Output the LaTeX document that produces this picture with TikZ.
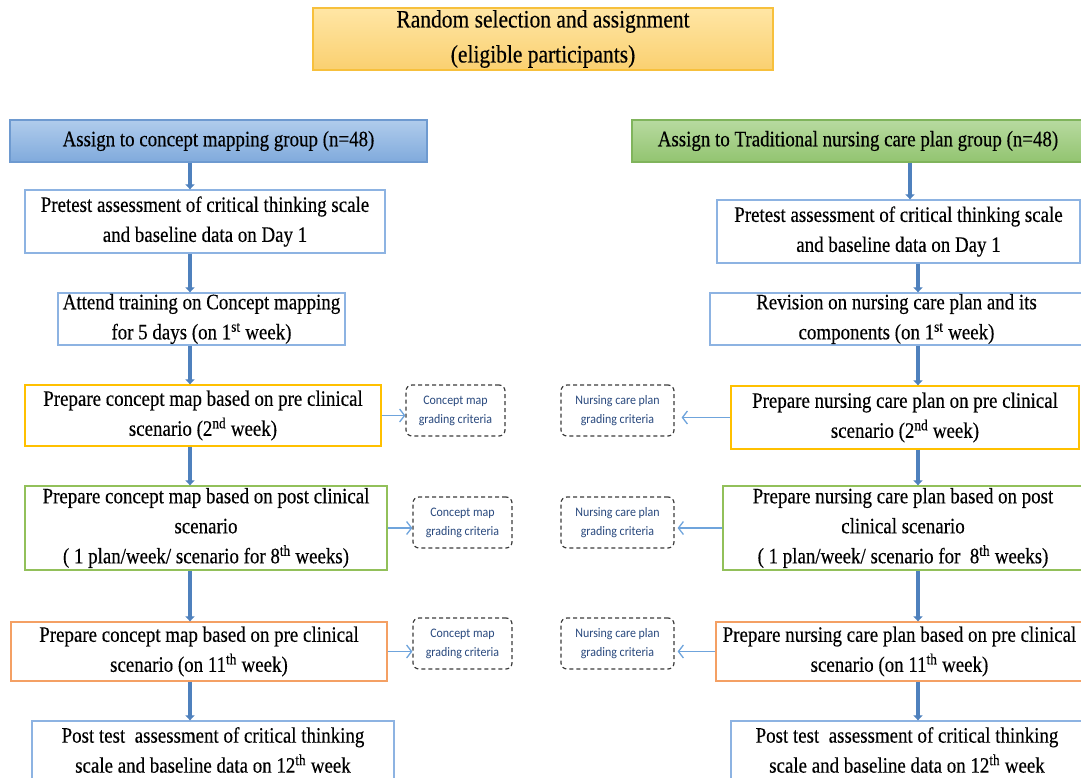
\documentclass[tikz,border=0pt]{standalone}
\usepackage{fontspec}
\setmainfont[FakeStretch=0.86,FakeBold=0.3]{Liberation Serif}
\newfontfamily\critfont[FakeStretch=0.92]{Carlito}
\usetikzlibrary{arrows.meta}
\definecolor{topfillA}{RGB}{255,230,165}
\definecolor{topfillB}{RGB}{250,208,112}
\definecolor{topline}{RGB}{247,192,60}
\definecolor{bluefillA}{RGB}{176,204,236}
\definecolor{bluefillB}{RGB}{128,170,220}
\definecolor{blueline}{RGB}{110,154,208}
\definecolor{greenfillA}{RGB}{184,218,160}
\definecolor{greenfillB}{RGB}{146,196,112}
\definecolor{greenline}{RGB}{128,180,92}
\definecolor{lightblueline}{RGB}{141,179,226}
\definecolor{yellowline}{RGB}{255,192,0}
\definecolor{greenbox}{RGB}{146,192,90}
\definecolor{orangebox}{RGB}{244,160,100}
\definecolor{flowarrow}{RGB}{79,129,189}
\definecolor{thinarrow}{RGB}{111,164,220}
\definecolor{dashline}{RGB}{60,60,60}
\definecolor{crittext}{RGB}{40,72,125}
\begin{document}
\begin{tikzpicture}[x=1pt,y=-1pt,
  stepbox/.style={rectangle, inner sep=0pt, align=center, line width=1.3pt,
    font=\fontsize{22}{30}\selectfont, text=black, fill=white},
  critbox/.style={rectangle, rounded corners=6pt, dashed, draw=dashline,
    line width=1.2pt, inner sep=0pt, align=center, text=crittext,
    font=\critfont\fontsize{13}{19}\selectfont,
    dash pattern=on 4pt off 3pt},
  flow/.style={draw=flowarrow, line width=3.5pt,
    -{Triangle[width=9pt,length=5pt]}},
  side/.style={draw=thinarrow, line width=1.3pt,
    -{Straight Barb[length=5pt,width=13pt,line width=1.3pt]}}
]
\useasboundingbox (0,0) rectangle (1081,778);

% top
\node[stepbox, top color=topfillA, bottom color=topfillB, draw=topline,
  minimum width=460pt, minimum height=62pt,
  font=\fontsize{25}{35}\selectfont] (top) at (543,39)
  {Random selection and assignment\\(eligible participants)};

% headers
\node[stepbox, top color=bluefillA, bottom color=bluefillB, draw=blueline,
  minimum width=417pt, minimum height=42pt] (LH) at (218.5,141)
  {Assign to concept mapping group (n=48)};
\node[stepbox, top color=greenfillA, bottom color=greenfillB, draw=greenline,
  minimum width=452pt, minimum height=42pt] (RH) at (858,141)
  {Assign to Traditional nursing care plan group (n=48)};

% left column
\node[stepbox, draw=lightblueline, minimum width=360pt, minimum height=63pt] (L1) at (205,221.5)
  {Pretest assessment of critical thinking scale\\and baseline data on Day 1};
\node[stepbox, draw=lightblueline, minimum width=287pt, minimum height=52pt] (L2) at (201.5,319)
  {Attend training on Concept mapping\\for 5 days (on 1\textsuperscript{st} week)};
\node[stepbox, draw=yellowline, minimum width=356pt, minimum height=61pt] (L3) at (203,415.5)
  {Prepare concept map based on pre clinical\\scenario (2\textsuperscript{nd} week)};
\node[stepbox, draw=greenbox, minimum width=362pt, minimum height=84pt] (L4) at (206,528)
  {Prepare concept map based on post clinical\\scenario\\( 1 plan/week/ scenario for 8\textsuperscript{th} weeks)};
\node[stepbox, draw=orangebox, minimum width=376pt, minimum height=59pt] (L5) at (199,651.5)
  {Prepare concept map based on pre clinical\\scenario (on 11\textsuperscript{th} week)};
\node[stepbox, draw=lightblueline, minimum width=362pt, minimum height=58pt] (L6) at (213,750)
  {Post test\ \ assessment of critical thinking\\scale and baseline data on 12\textsuperscript{th} week};

% right column
\node[stepbox, draw=lightblueline, minimum width=363pt, minimum height=63pt] (R1) at (898.5,231.5)
  {Pretest assessment of critical thinking scale\\and baseline data on Day 1};
\node[stepbox, draw=lightblueline, minimum width=373pt, minimum height=52pt] (R2) at (896.5,319)
  {Revision on nursing care plan and its\\components (on 1\textsuperscript{st} week)};
\node[stepbox, draw=yellowline, minimum width=348pt, minimum height=63pt] (R3) at (905,417.5)
  {Prepare nursing care plan on pre clinical\\scenario (2\textsuperscript{nd} week)};
\node[stepbox, draw=greenbox, minimum width=360pt, minimum height=84pt] (R4) at (903,528)
  {Prepare nursing care plan based on post\\clinical scenario\\( 1 plan/week/ scenario for\ \ 8\textsuperscript{th} weeks)};
\node[stepbox, draw=orangebox, minimum width=367pt, minimum height=59pt] (R5) at (899.5,651.5)
  {Prepare nursing care plan based on pre clinical\\scenario (on 11\textsuperscript{th} week)};
\node[stepbox, draw=lightblueline, minimum width=352pt, minimum height=58pt] (R6) at (907,750)
  {Post test\ \ assessment of critical thinking\\scale and baseline data on 12\textsuperscript{th} week};

% criteria boxes
\node[critbox, minimum width=99pt, minimum height=51pt] (DL1) at (455.5,410.5) {Concept map\\grading criteria};
\node[critbox, minimum width=99pt, minimum height=51pt] (DL2) at (462.5,522.5) {Concept map\\grading criteria};
\node[critbox, minimum width=99pt, minimum height=51pt] (DL3) at (462.5,643.5) {Concept map\\grading criteria};
\node[critbox, minimum width=113pt, minimum height=51pt] (DR1) at (617.5,410.5) {Nursing care plan\\grading criteria};
\node[critbox, minimum width=113pt, minimum height=51pt] (DR2) at (617.5,522.5) {Nursing care plan\\grading criteria};
\node[critbox, minimum width=113pt, minimum height=51pt] (DR3) at (617.5,643.5) {Nursing care plan\\grading criteria};

% flow arrows
\coordinate (lx) at (190,0);
\coordinate (rx0) at (910,0);
\coordinate (rx) at (918,0);
\draw[flow] (LH.south -| lx) -- (L1.north -| lx);
\draw[flow] (L1.south -| lx) -- (L2.north -| lx);
\draw[flow] (L2.south -| lx) -- (L3.north -| lx);
\draw[flow] (L3.south -| lx) -- (L4.north -| lx);
\draw[flow] (L4.south -| lx) -- (L5.north -| lx);
\draw[flow] (L5.south -| lx) -- (L6.north -| lx);
\draw[flow] (RH.south -| rx0) -- (R1.north -| rx0);
\draw[flow] (R1.south -| rx) -- (R2.north -| rx);
\draw[flow] (R2.south -| rx) -- (R3.north -| rx);
\draw[flow] (R3.south -| rx) -- (R4.north -| rx);
\draw[flow] (R4.south -| rx) -- (R5.north -| rx);
\draw[flow] (R5.south -| rx) -- (R6.north -| rx);

% side arrows
\draw[side] (L3.east) -- (L3.east -| DL1.west);
\draw[side] (L4.east) -- (L4.east -| DL2.west);
\draw[side] (L5.east) -- (L5.east -| DL3.west);
\draw[side, shorten >=7pt] (R3.west) -- (R3.west -| DR1.east);
\draw[side, shorten >=3pt] (R4.west) -- (R4.west -| DR2.east);
\draw[side, shorten >=3pt] (R5.west) -- (R5.west -| DR3.east);
\end{tikzpicture}
\end{document}
